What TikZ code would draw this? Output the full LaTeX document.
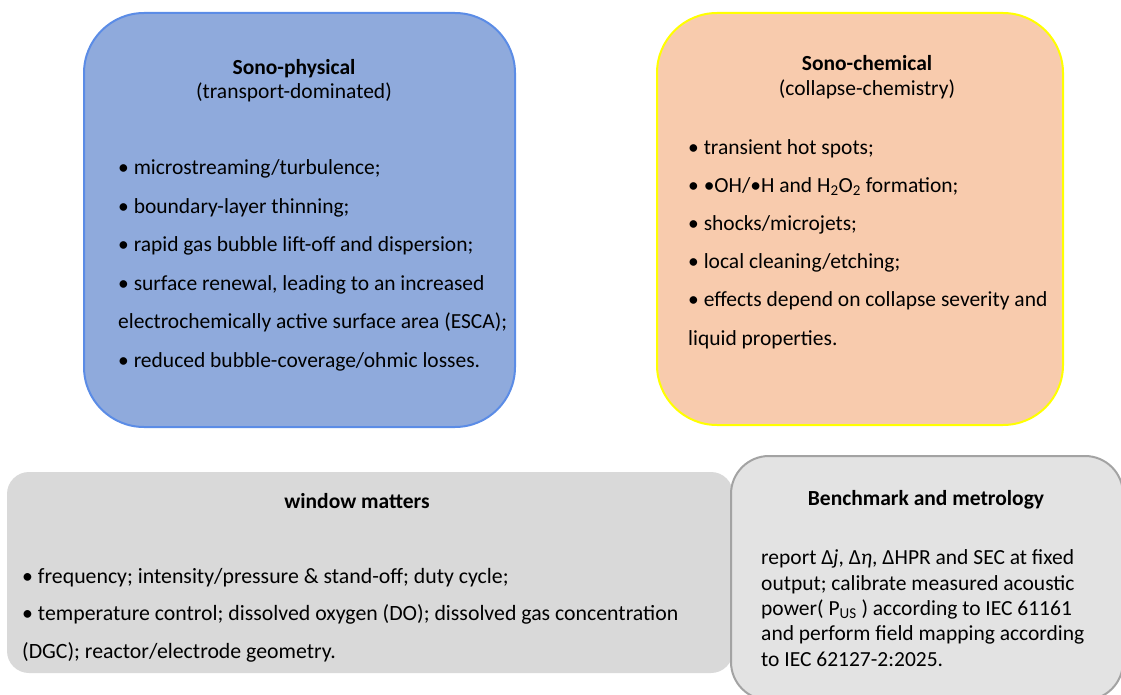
\documentclass[tikz,border=0pt]{standalone}
\usepackage{fontspec}
\setmainfont{Carlito}
\usetikzlibrary{positioning}
\definecolor{physfill}{HTML}{8FAADC}
\definecolor{physdraw}{HTML}{5B8CE6}
\definecolor{chemfill}{HTML}{F8CBAD}
\definecolor{chemdraw}{HTML}{FFFF00}
\definecolor{windfill}{HTML}{D9D9D9}
\definecolor{benchfill}{HTML}{E3E3E3}
\definecolor{benchdraw}{HTML}{A3A3A3}
\tikzset{
	panel/.style={rectangle, rounded corners=#1, inner sep=0pt, outer sep=0pt},
	title/.style={font=\fontsize{21.5}{25}\selectfont\bfseries, inner sep=0pt, anchor=base},
	subtitle/.style={font=\fontsize{21.5}{25}\selectfont, inner sep=0pt, anchor=base},
	body/.style={font=\fontsize{21.5}{38.5}\selectfont, align=left, inner sep=0pt, anchor=base west}
}

\begin{document}
\begin{tikzpicture}[x=1pt, y=-1pt]
		
		\useasboundingbox (0,0) rectangle (1121,695);
		
		% Upper boxes
		\node[panel=60pt, fill=physfill, draw=physdraw, line width=2pt, minimum width=431pt, minimum height=414pt] (phys) at (299.5,220) {};
		\node[panel=60pt, fill=chemfill, draw=chemdraw, line width=2pt, minimum width=406pt, minimum height=412pt] (chem) at (860,219) {};
		
		% Lower boxes
		\node[panel=22pt, fill=windfill, minimum width=726pt, minimum height=201pt] (wind) at (370,572.5) {};
		\node[panel=38pt, fill=benchfill, draw=benchdraw, line width=2pt, minimum width=392pt, minimum height=244pt] (bench) at (927,578) {};
		
		% Titles
		\node[title] (phystitle) at (294,75) {Sono-physical};
		\node[subtitle] (physsub) at ([yshift=-24pt]phystitle.base) {(transport-dominated)};
		\node[title] (chemtitle) at (867,71) {Sono-chemical};
		\node[subtitle] (chemsub) at ([yshift=-25pt]chemtitle.base) {(collapse-chemistry)};
		\node[title] (windtitle) at (357,508) {window matters};
		\node[title] (benchtitle) at (926,505) {Benchmark and metrology};
		
		% Bullets (anchored at the last line)
		\node[body] (physlist) at (118,367) {• microstreaming/turbulence;\\
			• boundary-layer thinning;\\
			• rapid gas bubble lift-off and dispersion;\\
			• surface renewal, leading to an increased\\
			electrochemically active surface area (ESCA);\\
			• reduced bubble-coverage/ohmic losses.};
		\node[body, font=\fontsize{21.5}{38.2}\selectfont] (chemlist) at (688,345) {• transient hot spots;\\
			• •OH/•H and H\textsubscript{2}O\textsubscript{2} formation;\\
			• shocks/microjets;\\
			• local cleaning/etching;\\
			• effects depend on collapse severity and\\
			liquid properties.};
		\node[body, font=\fontsize{21.8}{37.5}\selectfont] (windlist) at (22,658) {• frequency; intensity/pressure \& stand-off; duty cycle;\\
			• temperature control; dissolved oxygen (DO); dissolved gas concentration\\
			(DGC); reactor/electrode geometry.};
		\node[body, font=\fontsize{21.5}{25.3}\selectfont] (benchtext) at (761,666) {report Δ\textit{j}, Δ\textit{η}, ΔHPR and SEC at fixed\\
			output; calibrate measured acoustic\\
			power( P\textsubscript{US} ) according to IEC 61161\\
			and perform field mapping according\\
			to IEC 62127-2:2025.};
		
	\end{tikzpicture}
\end{document}
